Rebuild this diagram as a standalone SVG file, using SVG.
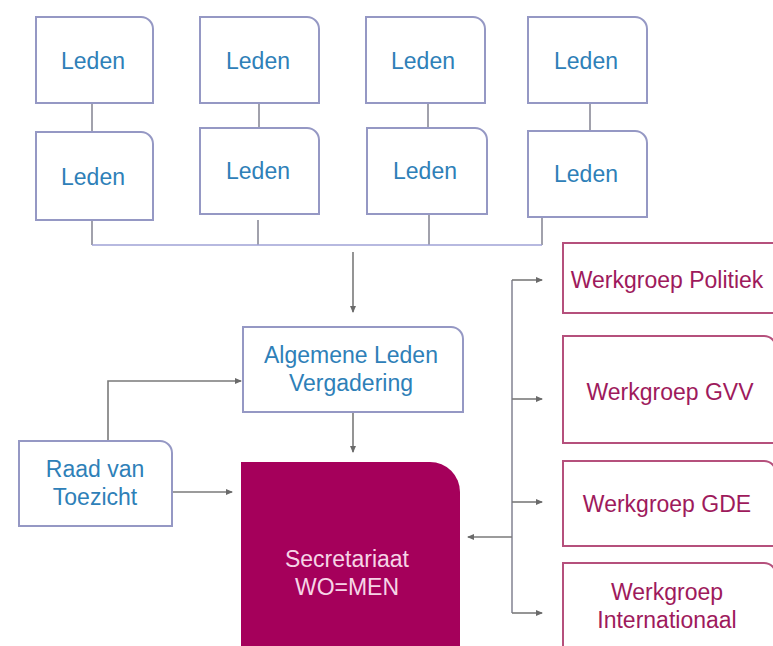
<svg xmlns="http://www.w3.org/2000/svg" width="773" height="646" viewBox="0 0 773 646">
<style>
.lb{fill:#fff;stroke:#9598c4;stroke-width:2}
.wb{fill:#fff;stroke:#b5507c;stroke-width:2}
.bt{font-family:"Liberation Sans",Arial,sans-serif;font-size:23px;fill:#2e80b8;text-anchor:middle}
.wt{font-family:"Liberation Sans",Arial,sans-serif;font-size:23px;fill:#9e1a5c;text-anchor:middle}
.st{font-family:"Liberation Sans",Arial,sans-serif;font-size:23px;fill:#f6d4e6;text-anchor:middle}
.c{fill:none;stroke:#8a8a98;stroke-width:1.6}
.a{fill:none;stroke:#7a7a7a;stroke-width:1.6;marker-end:url(#ah)}
</style>
<defs>
<marker id="ah" markerWidth="7" markerHeight="6" refX="6" refY="3" orient="auto" markerUnits="userSpaceOnUse">
<path d="M0,0 L7,3 L0,6 Z" fill="#6a6a6a"/>
</marker>
</defs>
<rect width="773" height="646" fill="#fff"/>
<g id="connectors">
<path class="c" d="M92,103 V132 M259,103 V128 M428,103 V128 M590,103 V131"/>
<path class="c" d="M92,220 V245 M258,220 V245 M429,214 V245 M542,217 V245"/>
<path class="c" style="stroke:#9fa2d6" d="M92,245 H542"/>
<path class="a" d="M353,252 V312"/>
<path class="a" d="M108,441 V381 H241"/>
<path class="a" d="M172,492 H232"/>
<path class="a" d="M353,412 V452"/>
<path class="c" d="M512,280 V613"/>
<path class="a" d="M512,280 H542"/>
<path class="a" d="M512,399 H542"/>
<path class="a" d="M512,502 H542"/>
<path class="a" d="M512,613 H542"/>
<path class="a" d="M512,537 H468"/>
</g>
<g id="leden1a"><path class="lb" d="M36,17 H141 A12,12 0 0 1 153,29 V103 H36 Z"/><text class="bt" x="93" y="69">Leden</text></g>
<g id="leden1b"><path class="lb" d="M200,17 H307 A12,12 0 0 1 319,29 V103 H200 Z"/><text class="bt" x="258" y="69">Leden</text></g>
<g id="leden1c"><path class="lb" d="M366,17 H473 A12,12 0 0 1 485,29 V103 H366 Z"/><text class="bt" x="423" y="69">Leden</text></g>
<g id="leden1d"><path class="lb" d="M528,17 H635 A12,12 0 0 1 647,29 V103 H528 Z"/><text class="bt" x="586" y="69">Leden</text></g>
<g id="leden2a"><path class="lb" d="M36,132 H141 A12,12 0 0 1 153,144 V220 H36 Z"/><text class="bt" x="93" y="185">Leden</text></g>
<g id="leden2b"><path class="lb" d="M200,128 H307 A12,12 0 0 1 319,140 V214 H200 Z"/><text class="bt" x="258" y="179">Leden</text></g>
<g id="leden2c"><path class="lb" d="M367,128 H475 A12,12 0 0 1 487,140 V214 H367 Z"/><text class="bt" x="425" y="179">Leden</text></g>
<g id="leden2d"><path class="lb" d="M528,131 H635 A12,12 0 0 1 647,143 V217 H528 Z"/><text class="bt" x="586" y="182">Leden</text></g>
<g id="alv"><path class="lb" d="M243,327 H451 A12,12 0 0 1 463,339 V412 H243 Z"/><text class="bt" x="351" y="363">Algemene Leden</text><text class="bt" x="351" y="391">Vergadering</text></g>
<g id="raad"><path class="lb" d="M19,441 H160 A12,12 0 0 1 172,453 V526 H19 Z"/><text class="bt" x="95" y="477">Raad van</text><text class="bt" x="95" y="505">Toezicht</text></g>
<g id="secretariaat"><path d="M241,462 H430 A30,30 0 0 1 460,492 V660 H241 Z" fill="#a5005b"/><text class="st" x="347" y="567">Secretariaat</text><text class="st" x="347" y="595">WO=MEN</text></g>
<g id="wg-politiek"><path class="wb" d="M563,243 H790 V313 H563 Z"/><text class="wt" x="667" y="288">Werkgroep Politiek</text></g>
<g id="wg-gvv"><path class="wb" d="M563,336 H764 A12,12 0 0 1 776,348 V443 H563 Z"/><text class="wt" x="670" y="400">Werkgroep GVV</text></g>
<g id="wg-gde"><path class="wb" d="M563,461 H764 A12,12 0 0 1 776,473 V546 H563 Z"/><text class="wt" x="667" y="512">Werkgroep GDE</text></g>
<g id="wg-internationaal"><path class="wb" d="M563,563 H764 A12,12 0 0 1 776,575 V660 H563 Z"/><text class="wt" x="667" y="600">Werkgroep</text><text class="wt" x="667" y="628">Internationaal</text></g>
</svg>
